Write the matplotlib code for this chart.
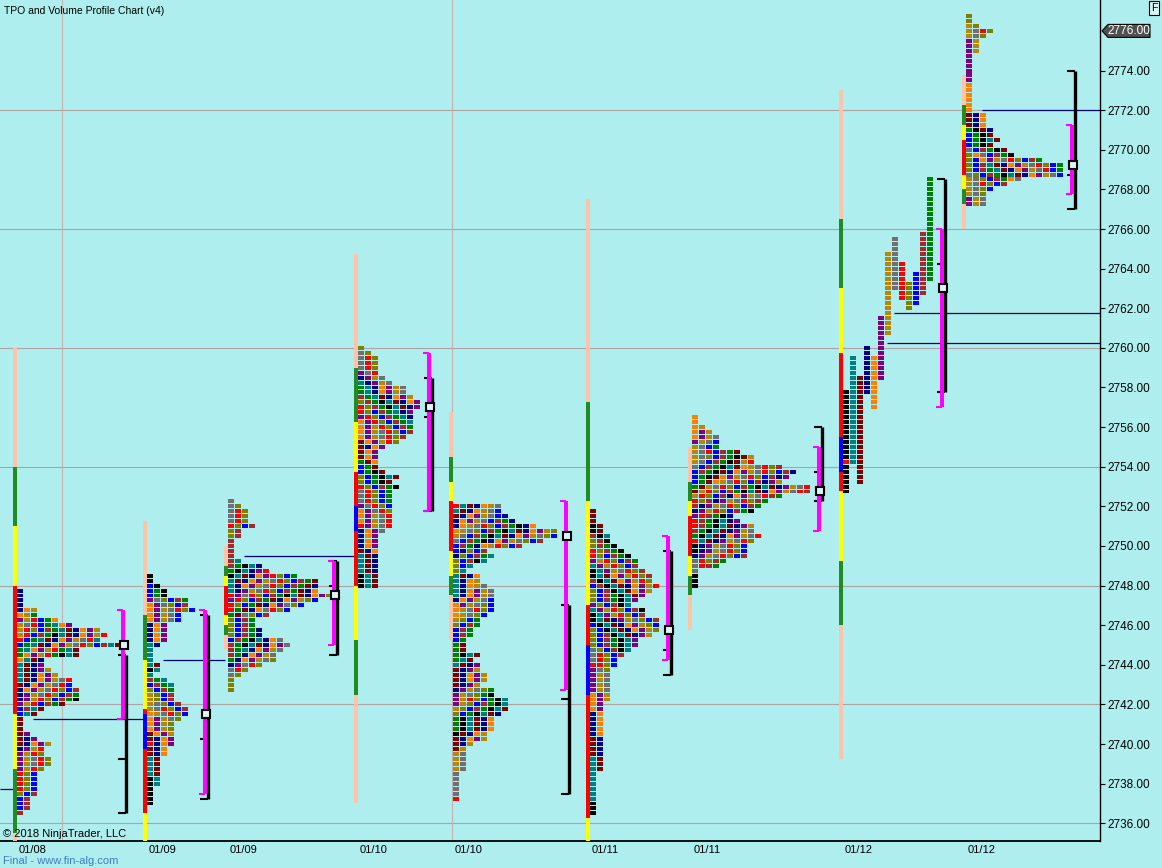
import numpy as np
import matplotlib
matplotlib.use("Agg")
import matplotlib.pyplot as plt
from matplotlib.patches import Polygon
from matplotlib.transforms import blended_transform_factory

TICK = 0.25
COL_PX = 7.0          # one TPO column is 7 px wide on the original screen
PERIOD_ROWS = 9       # rough length of one half hour range, in rows
BG = '#AFEEEE'

# colours of the half hour periods, in time order
period_colors = ['#000000', '#008080', '#800000', '#000080', '#FF8000', '#800080',
                 '#B8860B', '#707070', '#FF0000', '#808000', '#0000FF', '#A52A2A', '#008000']
bar_colors = {'S': '#FFC4A8', 'G': '#228B22', 'Y': '#FFFF00', 'R': '#FF0000', 'B': '#0000FF'}

dates = ['01/08', '01/09', '01/09', '01/10', '01/10', '01/11', '01/11', '01/12', '01/12']

# TPO count per 0.25 row, from the top price of each profile downwards
tops = [2747.75, 2748.5, 2752.25, 2760.0, 2752.0, 2751.75, 2756.5, None, 2776.75]
p1_tpo = [1, 1, 1, 1, 3, 3, 6, 8, 12, 13, 12, 15, 9, 9, 4, 4, 5, 6, 8, 8, 9, 9, 9, 7, 4, 3,
          1, 1, 1, 2, 3, 5, 4, 4, 5, 5, 4, 3, 3, 3, 3, 3, 2, 2, 2, 1]
p2_tpo = [1, 1, 2, 3, 3, 6, 6, 7, 5, 5, 3, 3, 3, 3, 2, 1, 1, 1, 2, 2, 1, 3, 4, 4, 4, 4, 5, 6,
          6, 5, 4, 4, 4, 4, 4, 3, 3, 2, 2, 2, 2, 2, 2, 1, 1, 1, 1]
p3_tpo = [1, 2, 3, 3, 3, 4, 2, 2, 1, 1, 1, 1, 2, 5, 6, 10, 13, 13, 13, 15, 13, 11, 9, 6, 4, 4,
          5, 5, 8, 9, 8, 7, 7, 5, 3, 2, 1, 1, 1]
p4_tpo = [1, 2, 3, 3, 3, 3, 4, 5, 7, 7, 8, 9, 9, 8, 8, 8, 8, 8, 7, 6, 4, 3, 3, 3, 3, 4, 6, 5,
          6, 5, 5, 5, 5, 5, 5, 5, 5, 4, 3, 3, 3, 3, 3, 3, 3, 3, 3, 3, 3]
p5_tpo = [7, 7, 8, 9, 12, 15, 15, 13, 10, 5, 6, 5, 3, 2, 4, 4, 5, 6, 6, 6, 6, 6, 5, 4, 4, 3,
          3, 2, 2, 2, 4, 3, 4, 4, 5, 5, 4, 6, 6, 8, 8, 8, 7, 6, 6, 6, 5, 5, 3, 2, 2, 2, 2, 2,
          1, 1, 1, 1, 1, 1]
p6_tpo = [1, 1, 1, 2, 2, 3, 3, 4, 5, 6, 7, 7, 8, 9, 9, 10, 9, 8, 7, 6, 8, 8, 10, 10, 10, 9,
          7, 7, 6, 5, 4, 4, 3, 3, 3, 3, 3, 3, 3, 2, 2, 2, 2, 2, 2, 2, 2, 2, 2, 2, 2, 2, 2,
          1, 1, 1, 1, 1, 1, 1, 1, 1]
p7_tpo = [1, 1, 2, 3, 4, 4, 4, 7, 9, 9, 13, 15, 14, 13, 17, 17, 13, 11, 10, 9, 6, 7, 9, 9,
          10, 9, 8, 8, 8, 5, 4, 1, 1, 1, 1]
p9_tpo = [1, 1, 2, 4, 3, 2, 2, 2, 1, 1, 1, 1, 1, 1, 1, 1, 1, 1, 1, 1, 3, 3, 3, 4, 4, 5, 4,
          6, 7, 11, 14, 14, 14, 8, 6, 4, 3, 3, 3]
# the 01/12 day session is drawn one column per period
p8_low = [2752.75, 2754.25, 2753.25, 2757.75, 2757.0, 2758.5, 2760.75, 2763.0, 2762.5,
          2762.0, 2762.25, 2762.75, 2763.5]
p8_high = [2757.75, 2759.5, 2758.5, 2760.0, 2759.5, 2761.5, 2764.75, 2765.5, 2764.25,
           2763.25, 2763.75, 2765.75, 2768.5]
trend_up = [False, True, False, True, False, True, False, True, True]
color_start = [3, 0, 7, 0, 0, 0, 4, 0, 5]
open_price = [None, 2740.0, 2747.5, 2751.0, 2752.0, 2744.0, 2750.25, 2754.25, None]

# coloured range bar left of each profile: (low, high, colour)
p1_bar = [(2754, 2760, 'S'), (2751, 2754, 'G'), (2748, 2751, 'Y'), (2741.5, 2748, 'R'),
          (2738.75, 2741.5, 'Y'), (2735.5, 2738.75, 'G'), (2735.1, 2735.5, 'S')]
p2_bar = [(2746.5, 2751.25, 'S'), (2744.25, 2746.5, 'G'), (2741.75, 2744.25, 'Y'),
          (2741.5, 2741.75, 'R'), (2739.75, 2741.5, 'B'), (2736.5, 2739.75, 'R'),
          (2735.1, 2736.5, 'Y')]
p3_bar = [(2749, 2750, 'S'), (2748.5, 2749, 'G'), (2748, 2748.5, 'Y'), (2746.5, 2748, 'R'),
          (2746, 2746.5, 'Y'), (2745.5, 2746, 'G'), (2744.75, 2745.5, 'S')]
p4_bar = [(2759, 2764.75, 'S'), (2756.25, 2759, 'G'), (2753.75, 2756.25, 'Y'),
          (2752, 2753.75, 'R'), (2750.75, 2752, 'B'), (2748, 2750.75, 'R'),
          (2745.25, 2748, 'Y'), (2742.5, 2745.25, 'G'), (2737, 2742.5, 'S')]
p5_bar = [(2754.5, 2756.75, 'S'), (2753.25, 2754.5, 'G'), (2752.25, 2753.25, 'Y'),
          (2749.75, 2752.25, 'R'), (2748.5, 2749.75, 'Y'), (2747.5, 2748.5, 'G'),
          (2745.25, 2747.5, 'S')]
p6_bar = [(2757.25, 2767.5, 'S'), (2752.25, 2757.25, 'G'), (2747, 2752.25, 'Y'),
          (2745, 2747, 'R'), (2742.5, 2745, 'B'), (2736.25, 2742.5, 'R'), (2735.1, 2736.25, 'Y')]
p7_bar = [(2753.25, 2755, 'S'), (2752.25, 2753.25, 'G'), (2751.5, 2752.25, 'Y'),
          (2749.5, 2751.5, 'R'), (2748.5, 2749.5, 'Y'), (2747.5, 2748.5, 'G'), (2745.75, 2747.5, 'S')]
p8_bar = [(2766.5, 2773, 'S'), (2763, 2766.5, 'G'), (2759.75, 2763, 'Y'), (2755.5, 2759.75, 'R'),
          (2753.75, 2755.5, 'B'), (2752.75, 2753.75, 'R'), (2749.25, 2752.75, 'Y'),
          (2746, 2749.25, 'G'), (2739.25, 2746, 'S')]
p9_bar = [(2772.25, 2773.75, 'S'), (2771.25, 2772.25, 'G'), (2770.5, 2771.25, 'Y'),
          (2768.75, 2770.5, 'R'), (2768, 2768.75, 'Y'), (2767.25, 2768, 'G'), (2766, 2767.25, 'S')]

# value area (magenta), range bracket (black), POC
va_low = [2741.25, 2737.5, 2745.0, 2751.75, 2742.75, 2744.25, 2750.75, 2757.0, 2767.75]
va_high = [2746.75, 2746.75, 2749.25, 2759.75, 2752.25, 2750.5, 2755.0, 2766.0, 2771.25]
rng_low = [2736.5, 2737.25, 2744.5, 2751.75, 2737.5, 2743.5, 2752.25, 2757.75, 2767.0]
rng_high = [2744.5, 2746.5, 2749.25, 2758.5, 2747.0, 2749.75, 2756.0, 2768.5, 2774.0]
rng_mark = [2739.25, 2740.25, 2748.0, 2756.5, 2742.25, 2744.75, 2753.75, 2764.25, 2768.75]
poc = [2745.0, 2741.5, 2747.5, 2757.0, 2750.5, 2745.75, 2752.75, 2763.0, 2769.25]

# naked POC / reference lines: price, from column, to column
ref_price = [2741.25, 2737.75, 2744.25, 2749.5, 2761.75, 2760.25, 2772.0]
ref_from = [4.71, 0.0, 23.29, 34.86, 127.71, 126.71, 140.29]
ref_to = [20.71, 2.0, 32.14, 51.0, 157.14, 157.14, 157.14]
last_price = 2776.0

# screen layout (in TPO columns)
col1 = [2.47, 21.04, 32.57, 51.14, 64.71, 84.29, 98.86, 120.43, 138.0]
bracket_x = [17.53, 29.29, 47.67, 61.29, 80.86, 95.43, 116.96, 134.57, 153.14]
session_lines = [8.86, 64.57]

tpos = [p1_tpo, p2_tpo, p3_tpo, p4_tpo, p5_tpo, p6_tpo, p7_tpo, None, p9_tpo]
bars = [p1_bar, p2_bar, p3_bar, p4_bar, p5_bar, p6_bar, p7_bar, p8_bar, p9_bar]


def compressed_blocks(top, widths, up, offset):
    """cut the profile into layer pieces of about one period and stack them in time order."""
    w = np.asarray(widths)
    prices = top - TICK * np.arange(len(w))
    runs = []
    for layer in range(1, w.max() + 1):
        inside = np.r_[0, (w >= layer).astype(int), 0]
        edges = np.flatnonzero(np.diff(inside))
        for a, b in zip(edges[::2], edges[1::2]):
            start = a
            for k in range(a + 1, b):
                if (k + 4 * layer) % PERIOD_ROWS == 0:
                    runs.append((prices[k - 1], prices[start], layer))
                    start = k
            runs.append((prices[b - 1], prices[start], layer))
    sign = 1 if up else -1
    runs.sort(key=lambda r: (sign * (r[0] + r[1]) / 2, r[2]))
    out = []
    for p in prices:
        col = 0
        for t, (lo, hi, _) in enumerate(runs):
            if lo <= p <= hi:
                out.append([col, p, period_colors[(offset + t) % 13]])
                col += 1
    return out


def fixed_blocks(lows, highs, offset):
    out = []
    for k, (lo, hi) in enumerate(zip(lows, highs)):
        for p in np.arange(lo, hi + TICK / 2, TICK):
            out.append([k, p, period_colors[(offset + k) % 13]])
    return out


plt.rcParams['font.family'] = ['Liberation Sans', 'DejaVu Sans']
fig = plt.figure(figsize=(11.62, 8.68), dpi=100, facecolor=BG)
ax = fig.add_axes([0, 27 / 868, 1100 / 1162, 841 / 868], facecolor=BG)
ax.set_xlim(0, 1100 / COL_PX)
ax.set_ylim(2735.107, 2777.56)

for g in np.arange(2736, 2777, 6):
    ax.axhline(g, color='#b0a2a2', lw=0.8, zorder=0)
for xs in session_lines:
    ax.axvline(xs, color='#c4b0b0', lw=0.8, zorder=0)

bx, by, bc = [], [], []
for i in range(9):
    if tpos[i] is None:
        blocks = fixed_blocks(p8_low, p8_high, color_start[i])
    else:
        blocks = compressed_blocks(tops[i], tpos[i], trend_up[i], color_start[i])
    for b in blocks:
        if open_price[i] is not None and b[0] == 0 and abs(b[1] - open_price[i]) < 1e-6:
            b[2] = '#FF0000'
        bx.append(col1[i] + b[0])
        by.append(b[1] - 0.1)
        bc.append(b[2])
ax.bar(bx, 0.2, width=6 / COL_PX, bottom=by, color=bc, align='edge', linewidth=0,
       antialiased=False, zorder=3)

# range bars
for i in range(9):
    lo = [s[0] for s in bars[i]]
    hi = [s[1] for s in bars[i]]
    ax.bar([col1[i] - 0.6] * len(lo), np.subtract(hi, lo), width=0.57, bottom=lo,
           color=[bar_colors[s[2]] for s in bars[i]], align='edge', linewidth=0,
           antialiased=False, zorder=3)

# reference lines
ax.hlines(ref_price, ref_from, ref_to, colors='#000070', lw=0.9, zorder=2)

# brackets
for i in range(9):
    xb = bracket_x[i] + 3 / COL_PX
    v = ax.vlines(xb, rng_low[i], rng_high[i], colors='black', lw=2.4, zorder=4)
    v.set_capstyle('butt')
    ax.hlines([rng_low[i], rng_high[i], rng_mark[i]], xb - 8 / COL_PX, xb,
              colors='black', lw=1.5, zorder=4)
    xm = bracket_x[i]
    v = ax.vlines(xm, va_low[i], va_high[i], colors='#FF00FF', lw=2.9, zorder=5)
    v.set_capstyle('butt')
    ax.hlines([va_low[i], va_high[i]], xm - 6 / COL_PX, xm, colors='#FF00FF', lw=1.5, zorder=5)
    ax.plot(xm + 1 / COL_PX, poc[i], marker='s', ms=5.8, mfc='#dff6f6', mec='black',
            mew=1.5, zorder=6)

# axes decoration
for s in ['top', 'left']:
    ax.spines[s].set_visible(False)
ax.spines['right'].set_linewidth(1.0)
ax.spines['bottom'].set_linewidth(1.3)
ax.yaxis.tick_right()
yt = np.arange(2736, 2775, 2)
ax.set_yticks(yt)
ax.set_yticklabels([f'{v:.2f}' for v in yt])
ax.tick_params(axis='y', length=3.6, width=0.8, pad=2, labelsize=8.5, colors='black')
ax.set_xticks([c + 2.2 for c in col1])
ax.set_xticklabels(dates)
ax.tick_params(axis='x', length=0, pad=3, labelsize=8)

fig.text(4 / 1162, 1 - 11 / 868, 'TPO and Volume Profile Chart (v4)', fontsize=7.5, va='center')
fig.text(3 / 1162, 1 - 834 / 868, '\u00a9 2018 NinjaTrader, LLC', fontsize=8, va='center')
fig.text(3 / 1162, 1 - 861 / 868, 'Final - www.fin-alg.com', fontsize=8, va='center',
         color='#3f7cc4')

# last price marker
tr = blended_transform_factory(fig.transFigure, ax.transData)
h = 6.5 / 19.81
pts = [(1102 / 1162, last_price), (1108 / 1162, last_price + h), (1150 / 1162, last_price + h),
       (1150 / 1162, last_price - h), (1108 / 1162, last_price - h)]
fig.add_artist(Polygon(pts, closed=True, transform=tr, fc='#505050', ec='black', lw=0.8))
fig.text(1129 / 1162, 0, f'{last_price:.2f}', transform=tr, color='white', fontsize=8.5,
         ha='center', va='center').set_y(last_price)
fig.text(1154 / 1162, 1 - 8 / 868, 'F', fontsize=7.5, ha='center', va='center',
         bbox=dict(boxstyle='square,pad=0.2', fc='#d4f6f6', ec='black', lw=0.8))

fig.savefig('out.png', dpi=100, facecolor=BG)
